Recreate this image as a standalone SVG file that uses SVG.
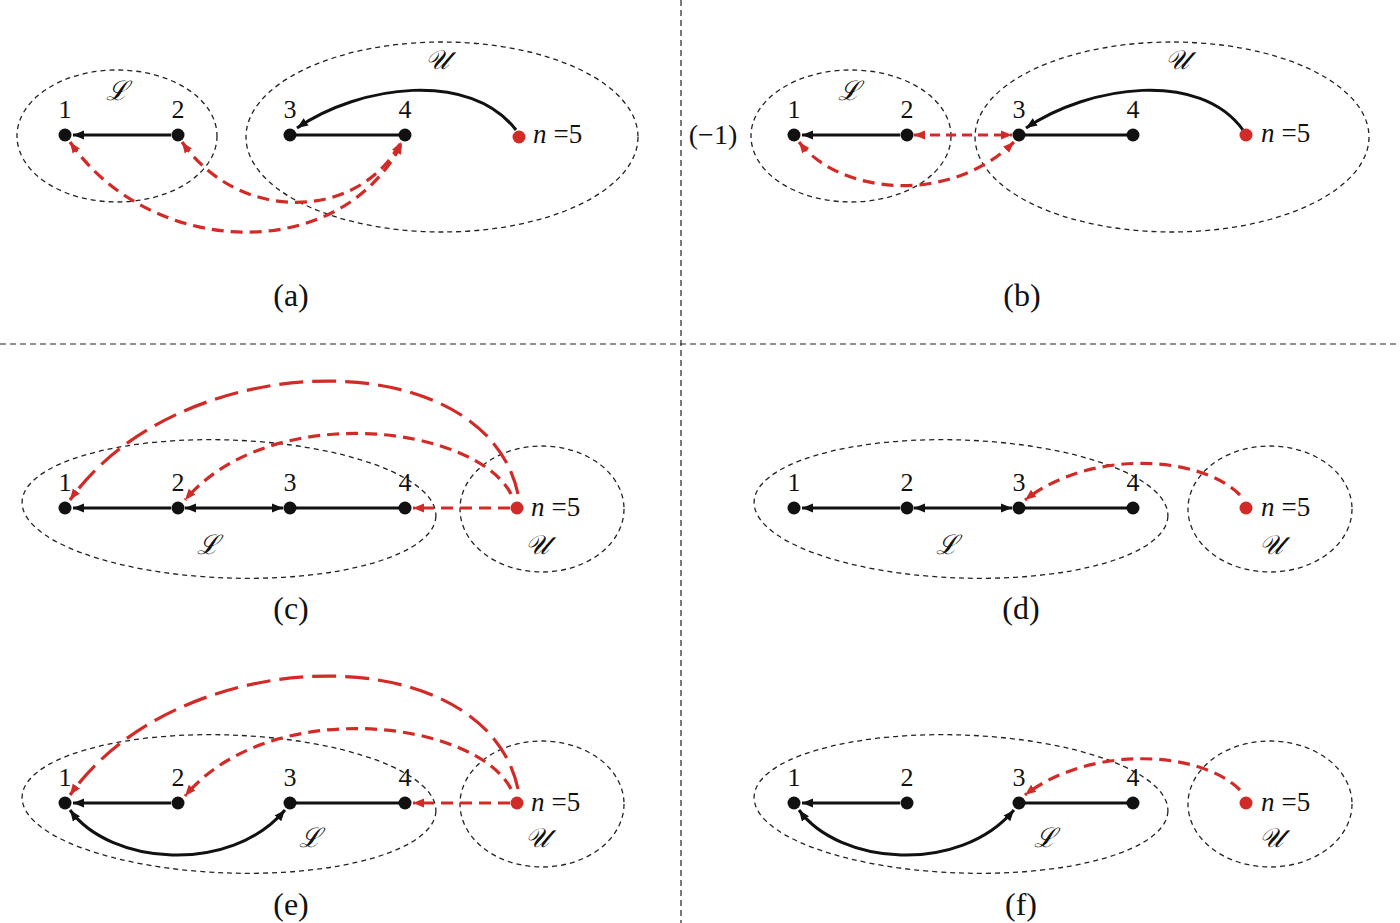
<svg xmlns="http://www.w3.org/2000/svg" width="1400" height="923" viewBox="0 0 1400 923">
<style>
.div{stroke:#222;stroke-width:1.2;stroke-dasharray:6 4;fill:none}
.set{stroke:#222;stroke-width:1.3;stroke-dasharray:5 4;fill:none}
.e{stroke:#111;stroke-width:3;fill:none}
.r{stroke:#d22b27;stroke-width:3.2;fill:none;stroke-dasharray:12 7}
.rl{stroke:#d22b27;stroke-width:3.2;fill:none;stroke-dasharray:24 9}
.n{fill:#111}
.nr{fill:#d22b27}
</style>
<defs>
<marker id="ab" viewBox="0 0 10 10" refX="10" refY="5" markerWidth="11" markerHeight="11" markerUnits="userSpaceOnUse" orient="auto-start-reverse"><path d="M0,1 L10,5 L0,9 Z" fill="#111"/></marker>
<marker id="ar" viewBox="0 0 10 10" refX="10" refY="5" markerWidth="11" markerHeight="11" markerUnits="userSpaceOnUse" orient="auto-start-reverse"><path d="M0,1 L10,5 L0,9 Z" fill="#d22b27"/></marker>
</defs>
<rect x="0" y="0" width="1400" height="923" fill="#fff"/>
<g id="dividers">
<line class="div" x1="681" y1="0" x2="681" y2="923"/>
<line class="div" x1="0" y1="344" x2="1400" y2="344"/>
</g>

<g id="panel-a">
<g id="a-sets">
<ellipse class="set" cx="117" cy="136" rx="100" ry="66"/>
<ellipse class="set" cx="442" cy="137" rx="196" ry="95"/>
<g font-family="DejaVu Serif" font-style="italic" font-size="27" text-anchor="middle" fill="#111">
<text x="117" y="100">ℒ</text>
<text x="437" y="69">𝒰</text>
</g>
</g>
<g id="a-edges">
<path class="e" d="M171,135 L73,135" marker-end="url(#ab)"/>
<path class="e" d="M290,135 L405,135"/>
<path class="e" d="M516,130 C470,70 360,85 297,128" marker-end="url(#ab)"/>
<path class="r" d="M182,142 C240,225 360,220 401,142" marker-start="url(#ar)" marker-end="url(#ar)"/>
<path class="r" d="M70,142 C150,258 340,266 402,143" marker-start="url(#ar)" marker-end="url(#ar)"/>
</g>
<g font-family="Liberation Serif" font-size="26" text-anchor="middle" fill="#111">
<g id="a-n1"><circle class="n" cx="65" cy="135" r="6.5"/><text x="65" y="118">1</text></g>
<g id="a-n2"><circle class="n" cx="178" cy="135" r="6.5"/><text x="178" y="118">2</text></g>
<g id="a-n3"><circle class="n" cx="290" cy="135" r="6.5"/><text x="290" y="118">3</text></g>
<g id="a-n4"><circle class="n" cx="405" cy="135" r="6.5"/><text x="405" y="118">4</text></g>
</g>
<g id="a-n5"><circle class="nr" cx="519" cy="137" r="6.5"/><text x="533" y="143" font-family="Liberation Serif" font-size="27" fill="#111"><tspan font-style="italic">n</tspan><tspan dx="7">=5</tspan></text></g>
<text x="291" y="306" font-family="Liberation Serif" font-size="32" text-anchor="middle" fill="#111">(a)</text>
</g>

<g id="panel-b">
<g id="b-sets">
<ellipse class="set" cx="851" cy="136" rx="100" ry="66"/>
<ellipse class="set" cx="1172" cy="137" rx="197" ry="95"/>
<g font-family="DejaVu Serif" font-style="italic" font-size="27" text-anchor="middle" fill="#111">
<text x="849" y="100">ℒ</text>
<text x="1177" y="69">𝒰</text>
</g>
</g>
<g id="b-edges">
<path class="e" d="M900,135 L802,135" marker-end="url(#ab)"/>
<path class="e" d="M1019,135 L1133,135"/>
<path class="e" d="M1243,130 C1200,70 1090,85 1026,128" marker-end="url(#ab)"/>
<path class="r" d="M914,135 L1012,135" style="stroke-dasharray:10 6" marker-start="url(#ar)" marker-end="url(#ar)"/>
<path class="r" d="M799,142 C840,195 950,205 1014,142" marker-start="url(#ar)" marker-end="url(#ar)"/>
</g>
<text x="713" y="144" font-family="Liberation Serif" font-size="28" text-anchor="middle" fill="#111">(−1)</text>
<g font-family="Liberation Serif" font-size="26" text-anchor="middle" fill="#111">
<g id="b-n1"><circle class="n" cx="794" cy="135" r="6.5"/><text x="794" y="118">1</text></g>
<g id="b-n2"><circle class="n" cx="907" cy="135" r="6.5"/><text x="907" y="118">2</text></g>
<g id="b-n3"><circle class="n" cx="1019" cy="135" r="6.5"/><text x="1019" y="118">3</text></g>
<g id="b-n4"><circle class="n" cx="1133" cy="135" r="6.5"/><text x="1133" y="118">4</text></g>
</g>
<g id="b-n5"><circle class="nr" cx="1246" cy="135" r="6.5"/><text x="1261" y="142" font-family="Liberation Serif" font-size="27" fill="#111"><tspan font-style="italic">n</tspan><tspan dx="7">=5</tspan></text></g>
<text x="1022" y="306" font-family="Liberation Serif" font-size="32" text-anchor="middle" fill="#111">(b)</text>
</g>

<g id="panel-c">
<g id="c-sets">
<ellipse class="set" cx="229" cy="509" rx="207" ry="69" transform="rotate(2 229 509)"/>
<ellipse class="set" cx="542" cy="509" rx="82" ry="63"/>
<g font-family="DejaVu Serif" font-style="italic" font-size="27" text-anchor="middle" fill="#111">
<text x="208" y="554">ℒ</text>
<text x="537" y="554">𝒰</text>
</g>
</g>
<g id="c-edges">
<path class="e" d="M171,508 L73,508" marker-end="url(#ab)"/>
<path class="e" d="M185,508 L283,508" marker-start="url(#ab)" marker-end="url(#ab)"/>
<path class="e" d="M290,508 L405,508"/>
<path class="r" d="M510,508 L413,508" marker-end="url(#ar)"/>
<path class="r" d="M511,494 C475,425 270,400 185,500" marker-end="url(#ar)"/>
<path class="rl" d="M518,494 C485,340 180,345 70,500" marker-end="url(#ar)"/>
</g>
<g font-family="Liberation Serif" font-size="26" text-anchor="middle" fill="#111">
<g id="c-n1"><circle class="n" cx="65" cy="508" r="6.5"/><text x="65" y="491">1</text></g>
<g id="c-n2"><circle class="n" cx="178" cy="508" r="6.5"/><text x="178" y="491">2</text></g>
<g id="c-n3"><circle class="n" cx="290" cy="508" r="6.5"/><text x="290" y="491">3</text></g>
<g id="c-n4"><circle class="n" cx="405" cy="508" r="6.5"/><text x="405" y="491">4</text></g>
</g>
<g id="c-n5"><circle class="nr" cx="517" cy="508" r="6.5"/><text x="531" y="516" font-family="Liberation Serif" font-size="27" fill="#111"><tspan font-style="italic">n</tspan><tspan dx="7">=5</tspan></text></g>
<text x="291" y="619" font-family="Liberation Serif" font-size="32" text-anchor="middle" fill="#111">(c)</text>
</g>

<g id="panel-d">
<g id="d-sets">
<ellipse class="set" cx="961" cy="509" rx="207" ry="69" transform="rotate(2 961 509)"/>
<ellipse class="set" cx="1270" cy="509" rx="82" ry="63"/>
<g font-family="DejaVu Serif" font-style="italic" font-size="27" text-anchor="middle" fill="#111">
<text x="947" y="554">ℒ</text>
<text x="1271" y="554">𝒰</text>
</g>
</g>
<g id="d-edges">
<path class="e" d="M900,508 L802,508" marker-end="url(#ab)"/>
<path class="e" d="M914,508 L1012,508" marker-start="url(#ab)" marker-end="url(#ab)"/>
<path class="e" d="M1019,508 L1133,508"/>
<path class="r" d="M1240,495 C1200,455 1090,449 1025,500" marker-end="url(#ar)"/>
</g>
<g font-family="Liberation Serif" font-size="26" text-anchor="middle" fill="#111">
<g id="d-n1"><circle class="n" cx="794" cy="508" r="6.5"/><text x="794" y="491">1</text></g>
<g id="d-n2"><circle class="n" cx="907" cy="508" r="6.5"/><text x="907" y="491">2</text></g>
<g id="d-n3"><circle class="n" cx="1019" cy="508" r="6.5"/><text x="1019" y="491">3</text></g>
<g id="d-n4"><circle class="n" cx="1133" cy="508" r="6.5"/><text x="1133" y="491">4</text></g>
</g>
<g id="d-n5"><circle class="nr" cx="1246" cy="508" r="6.5"/><text x="1261" y="516" font-family="Liberation Serif" font-size="27" fill="#111"><tspan font-style="italic">n</tspan><tspan dx="7">=5</tspan></text></g>
<text x="1021" y="619" font-family="Liberation Serif" font-size="32" text-anchor="middle" fill="#111">(d)</text>
</g>

<g id="panel-e">
<g id="e-sets">
<ellipse class="set" cx="229" cy="804" rx="207" ry="69" transform="rotate(2 229 804)"/>
<ellipse class="set" cx="542" cy="804" rx="82" ry="63"/>
<g font-family="DejaVu Serif" font-style="italic" font-size="27" text-anchor="middle" fill="#111">
<text x="310" y="847">ℒ</text>
<text x="537" y="847">𝒰</text>
</g>
</g>
<g id="e-edges">
<path class="e" d="M171,803 L73,803" marker-end="url(#ab)"/>
<path class="e" d="M290,803 L405,803"/>
<path class="e" d="M70,810 C110,865 230,875 285,810" marker-start="url(#ab)" marker-end="url(#ab)"/>
<path class="r" d="M510,803 L413,803" marker-end="url(#ar)"/>
<path class="r" d="M511,789 C475,720 270,695 185,796" marker-end="url(#ar)"/>
<path class="rl" d="M518,789 C485,635 180,640 70,795" marker-end="url(#ar)"/>
</g>
<g font-family="Liberation Serif" font-size="26" text-anchor="middle" fill="#111">
<g id="e-n1"><circle class="n" cx="65" cy="803" r="6.5"/><text x="65" y="786">1</text></g>
<g id="e-n2"><circle class="n" cx="178" cy="803" r="6.5"/><text x="178" y="786">2</text></g>
<g id="e-n3"><circle class="n" cx="290" cy="803" r="6.5"/><text x="290" y="786">3</text></g>
<g id="e-n4"><circle class="n" cx="405" cy="803" r="6.5"/><text x="405" y="786">4</text></g>
</g>
<g id="e-n5"><circle class="nr" cx="517" cy="803" r="6.5"/><text x="531" y="811" font-family="Liberation Serif" font-size="27" fill="#111"><tspan font-style="italic">n</tspan><tspan dx="7">=5</tspan></text></g>
<text x="291" y="915" font-family="Liberation Serif" font-size="32" text-anchor="middle" fill="#111">(e)</text>
</g>

<g id="panel-f">
<g id="f-sets">
<ellipse class="set" cx="961" cy="804" rx="207" ry="69" transform="rotate(2 961 804)"/>
<ellipse class="set" cx="1270" cy="804" rx="82" ry="63"/>
<g font-family="DejaVu Serif" font-style="italic" font-size="27" text-anchor="middle" fill="#111">
<text x="1045" y="847">ℒ</text>
<text x="1271" y="847">𝒰</text>
</g>
</g>
<g id="f-edges">
<path class="e" d="M900,803 L802,803" marker-end="url(#ab)"/>
<path class="e" d="M1019,803 L1133,803"/>
<path class="e" d="M799,810 C839,865 959,875 1014,810" marker-start="url(#ab)" marker-end="url(#ab)"/>
<path class="r" d="M1240,790 C1200,750 1090,745 1025,795" marker-end="url(#ar)"/>
</g>
<g font-family="Liberation Serif" font-size="26" text-anchor="middle" fill="#111">
<g id="f-n1"><circle class="n" cx="794" cy="803" r="6.5"/><text x="794" y="786">1</text></g>
<g id="f-n2"><circle class="n" cx="907" cy="803" r="6.5"/><text x="907" y="786">2</text></g>
<g id="f-n3"><circle class="n" cx="1019" cy="803" r="6.5"/><text x="1019" y="786">3</text></g>
<g id="f-n4"><circle class="n" cx="1133" cy="803" r="6.5"/><text x="1133" y="786">4</text></g>
</g>
<g id="f-n5"><circle class="nr" cx="1246" cy="803" r="6.5"/><text x="1261" y="811" font-family="Liberation Serif" font-size="27" fill="#111"><tspan font-style="italic">n</tspan><tspan dx="7">=5</tspan></text></g>
<text x="1021" y="915" font-family="Liberation Serif" font-size="32" text-anchor="middle" fill="#111">(f)</text>
</g>
</svg>
